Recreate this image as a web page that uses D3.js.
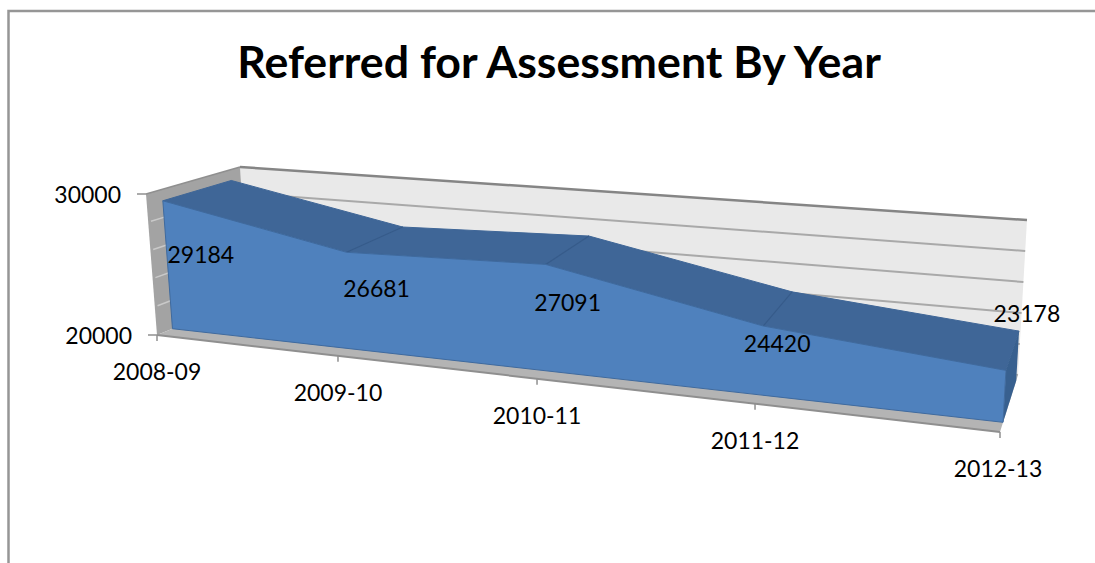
<!DOCTYPE html>
<html>
<head>
<meta charset="utf-8">
<script src="https://cdn.jsdelivr.net/npm/d3@7"></script>
<style>
html, body { margin: 0; padding: 0; background: #fff; }
svg { display: block; }
text { font-family: Lato, "Open Sans", sans-serif; fill: #000; }
</style>
</head>
<body>
<svg width="1095" height="563"></svg>
<script>
// Data
var categories = ["2008-09", "2009-10", "2010-11", "2011-12", "2012-13"];
var values = [29184, 26681, 27091, 24420, 23178];
var valueTicks = [20000, 30000];
var gridValues = [20000, 22000, 24000, 26000, 28000, 30000];

var svg = d3.select("svg");

// Box corners of the 3D plot, on screen: [left, right] for each edge
var frontBottom = { x: [157, 1000], y: [335, 432] };
var backBottom = { x: [248, 1018], y: [298, 375] };
var frontTop = { x: [146, 1009], y: [194, 267] };
var backTop = { x: [240, 1027], y: [167, 220] };

// Perspective stretches the categories, so the along-axis scale is not even
var xScale = d3.scaleLinear().domain([0, 1, 2, 3, 4]).range([0, 0.2147, 0.4508, 0.7094, 1]);
var yScale = d3.scaleLinear().domain([20000, 30000]).range([0, 1]);

function lerp(a, b, t) { return a + (b - a) * t; }

// category index, value, depth (0 = front of floor, 1 = back wall) -> screen point
function project(i, v, d) {
    var t = xScale(i), h = yScale(v);
    function edge(e, k) { return lerp(e[k][0], e[k][1], t); }
    var x = lerp(
        lerp(edge(frontBottom, "x"), edge(frontTop, "x"), h),
        lerp(edge(backBottom, "x"), edge(backTop, "x"), h), d);
    var y = lerp(
        lerp(edge(frontBottom, "y"), edge(frontTop, "y"), h),
        lerp(edge(backBottom, "y"), edge(backTop, "y"), h), d);
    return [x, y];
}

var poly = d3.line().curve(d3.curveLinearClosed);
var seg = d3.line();

var areaFront = 0.17, areaBack = 0.9;
var minV = valueTicks[0], maxV = valueTicks[1], lastI = categories.length - 1;

// Chart border
svg.append("path").attr("d", "M8.5,563V11H1095").attr("fill", "none").attr("stroke", "#969696").attr("stroke-width", 2.5);

// Title
svg.append("text")
    .attr("x", 559).attr("y", 78)
    .attr("text-anchor", "middle")
    .attr("font-size", "44.7px").attr("font-weight", "bold")
    .text("Referred for Assessment By Year");

// Back wall
svg.append("path")
    .attr("d", poly([project(0, maxV, 1), project(lastI, maxV, 1), project(lastI, minV, 1), project(0, minV, 1)]))
    .attr("fill", "#e9e9e9");

// Gridlines on the back wall
svg.selectAll(".grid").data(gridValues).enter().append("path")
    .attr("class", "grid")
    .attr("d", function(v) { return seg([project(0, v, 1), project(lastI, v, 1)]); })
    .attr("fill", "none")
    .attr("stroke", function(v) { return v === maxV ? "#858585" : "#a9a9a9"; })
    .attr("stroke-width", function(v) { return v === maxV ? 2.5 : 2; });

// Left wall
svg.append("path")
    .attr("d", poly([project(0, maxV, 0), project(0, maxV, 1), project(0, minV, 1), project(0, minV, 0)]))
    .attr("fill", "#a3a3a3");

// Lines across the left wall
svg.selectAll(".wallgrid").data(gridValues.slice(1, -1)).enter().append("path")
    .attr("class", "wallgrid")
    .attr("d", function(v) { return seg([project(0, v, 0.03), project(0, v, 0.2)]); })
    .attr("fill", "none").attr("stroke", "#c9c9c9").attr("stroke-width", 1.5);

// Floor
svg.append("path")
    .attr("d", poly([project(0, minV, 0), project(lastI, minV, 0), project(lastI, minV, 1), project(0, minV, 1)]))
    .attr("fill", "#b4b4b4");
svg.append("path")
    .attr("d", seg([project(0, minV, 0), project(lastI, minV, 0)]))
    .attr("fill", "none").attr("stroke", "#8f8f8f").attr("stroke-width", 2);
svg.append("path")
    .attr("d", seg([project(0, maxV, 0), project(0, maxV, 1)]))
    .attr("fill", "none").attr("stroke", "#8f8f8f").attr("stroke-width", 1.5);

// Top face of the area, one piece per category step
d3.range(lastI).forEach(function(i) {
    svg.append("path")
        .attr("d", poly([
            project(i, values[i], areaFront), project(i + 1, values[i + 1], areaFront),
            project(i + 1, values[i + 1], areaBack), project(i, values[i], areaBack)
        ]))
        .attr("fill", "#3f6697").attr("stroke", "#3f6697").attr("stroke-width", 1);
});

// Seams between the pieces of the top face
d3.range(1, lastI).forEach(function(i) {
    svg.append("path")
        .attr("d", seg([project(i, values[i], areaFront), project(i, values[i], areaBack)]))
        .attr("fill", "none").attr("stroke", "#365b8a").attr("stroke-width", 1.2);
});

// Right end of the area
svg.append("path")
    .attr("d", poly([
        project(lastI, values[lastI], areaFront), project(lastI, values[lastI], areaBack),
        project(lastI, minV, areaBack), project(lastI, minV, areaFront)
    ]))
    .attr("fill", "#38608f");

// Front face of the area
var frontPts = values.map(function(v, i) { return project(i, v, areaFront); });
frontPts.push(project(lastI, minV, areaFront), project(0, minV, areaFront));
svg.append("path")
    .attr("d", poly(frontPts))
    .attr("fill", "#4f81bd").attr("stroke", "#3f6a9e").attr("stroke-width", 1);

// Value axis ticks and labels
valueTicks.forEach(function(v) {
    var p = project(0, v, 0);
    svg.append("path").attr("d", seg([[p[0] - 9, p[1]], p]))
        .attr("fill", "none").attr("stroke", "#8f8f8f").attr("stroke-width", 1.5);
    svg.append("text")
        .attr("x", p[0] - 25).attr("y", p[1] + 1)
        .attr("dy", "0.35em").attr("text-anchor", "end")
        .attr("font-size", "23px")
        .text(v);
});

// Category ticks and labels
categories.forEach(function(c, i) {
    var p = project(i, minV, 0);
    svg.append("path").attr("d", seg([p, [p[0], p[1] + 6]]))
        .attr("fill", "none").attr("stroke", "#8f8f8f").attr("stroke-width", 1.5);
    svg.append("text")
        .attr("x", p[0] - (i === lastI ? 2 : 0)).attr("y", p[1] + 37)
        .attr("dy", "0.35em").attr("text-anchor", "middle")
        .attr("font-size", "23px")
        .text(c);
});

// Data labels; the original placement is uneven so each has its own nudge
var labelNudge = [[38, 54], [30, 37], [22, 38], [14, 18], [21, -56]];
values.forEach(function(v, i) {
    var p = project(i, v, areaFront);
    svg.append("text")
        .attr("x", p[0] + labelNudge[i][0]).attr("y", p[1] + labelNudge[i][1])
        .attr("dy", "0.35em").attr("text-anchor", "middle")
        .attr("font-size", "23px")
        .text(v);
});
</script>
</body>
</html>
